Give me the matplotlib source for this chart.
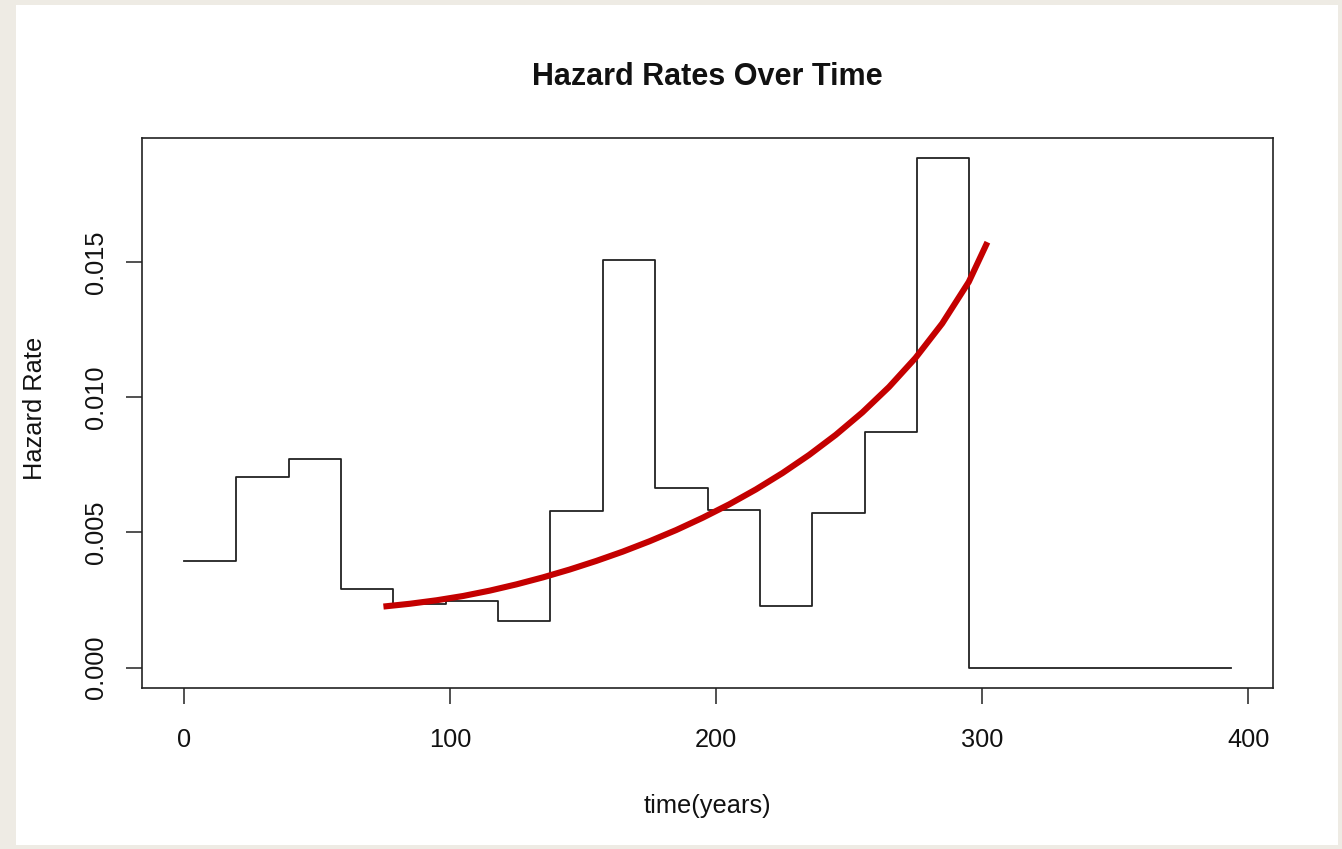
import matplotlib
matplotlib.use("Agg")
import matplotlib.pyplot as plt
from matplotlib.patches import Rectangle

plt.rcParams['font.family'] = ['Liberation Sans', 'DejaVu Sans']

# ---- data ----
# interval boundaries (years) of the piecewise-constant hazard
breaks = [0, 19.68, 39.36, 59.04, 78.72, 98.4, 118.08, 137.76, 157.44,
          177.12, 196.8, 216.48, 236.16, 255.84, 275.52, 295.2, 393.6]
# hazard rate in each interval
rates = [0.00393, 0.00705, 0.00773, 0.00291, 0.00236, 0.00247, 0.00172,
         0.00578, 0.01509, 0.00666, 0.00584, 0.00228, 0.00572, 0.00870,
         0.01884, 0.0]

# fitted (red) hazard curve
fit_time = [75, 85, 95, 105, 115, 125, 135, 145, 155, 165, 175, 185,
            195, 205, 215, 225, 235, 245, 255, 265, 275, 285, 295, 302]
fit_rate = [0.002259, 0.002363, 0.002492, 0.002651, 0.002849, 0.003080,
            0.003340, 0.003629, 0.003947, 0.004293, 0.004674, 0.005088,
            0.005545, 0.006043, 0.006593, 0.007199, 0.007869, 0.008611,
            0.009441, 0.010380, 0.011460, 0.012730, 0.014270, 0.015740]

x_ticks = [0, 100, 200, 300, 400]
x_tick_labels = ["0", "100", "200", "300", "400"]
y_ticks = [0.0, 0.005, 0.010, 0.015]
y_tick_labels = ["0.000", "0.005", "0.010", "0.015"]

title = "Hazard Rates Over Time"
xlabel = "time(years)"
ylabel = "Hazard Rate"

# ---- figure ----
W, H = 1342, 849
fig = plt.figure(figsize=(W / 100, H / 100), dpi=100)
fig.patch.set_facecolor('#eeebe4')
bg = Rectangle((16 / W, 1 - 845 / H), (1338 - 16) / W, (845 - 5) / H,
               transform=fig.transFigure, facecolor='white',
               edgecolor='none', zorder=-10)
fig.patches.append(bg)

ax = fig.add_axes([142 / W, 1 - 688 / H, (1273 - 142) / W, (688 - 138) / H])
ax.set_zorder(5)
ax.set_facecolor('white')

# step function: each value held over its interval, final point at end
step_x = list(breaks)
step_y = list(rates) + [rates[-1]]
ax.step(step_x, step_y, where='post', color='#222222', lw=1.3)

ax.plot(fit_time, fit_rate, color='#c40000', lw=4.4,
        solid_capstyle='butt', solid_joinstyle='round')

ax.set_xlim(-15.74, 409.34)
ax.set_ylim(-0.000754, 0.019594)

ax.set_xticks(x_ticks)
ax.set_xticklabels(x_tick_labels)
ax.set_yticks(y_ticks)
ax.set_yticklabels(y_tick_labels, rotation=90, va='center')

ax.tick_params(axis='both', direction='out', length=11.5, width=1.1,
               color='#222222', labelsize=18.3, labelcolor='#111111')
ax.tick_params(axis='x', pad=17)
ax.tick_params(axis='y', pad=13)
for s in ax.spines.values():
    s.set_linewidth(1.2)
    s.set_color('#222222')

fig.text(707.5 / W, 1 - 85 / H, title, ha='center', va='baseline',
         fontsize=22, fontweight='bold', color='#111111')
fig.text(707.5 / W, 1 - 813 / H, xlabel, ha='center', va='baseline',
         fontsize=18.3, color='#111111')
fig.text(35 / W, 1 - 408 / H, ylabel, ha='center', va='center',
         rotation=90, fontsize=18.3, color='#111111')

fig.savefig('out.png', dpi=100, facecolor=fig.get_facecolor())
